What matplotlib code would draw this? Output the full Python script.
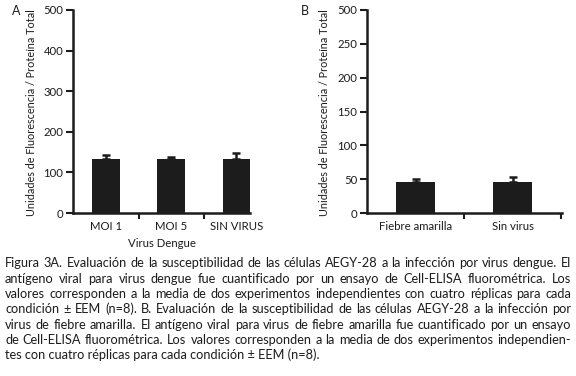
import matplotlib
matplotlib.use("Agg")
import matplotlib.pyplot as plt

W, H = 576, 376

# panel A: dengue
dengue_labels = ["MOI 1", "MOI 5", "SIN VIRUS"]
dengue_mean = [132, 132, 132]
dengue_sem = [12, 7, 17]
dengue_ticks = [0, 100, 200, 300, 400, 500]

# panel B: fiebre amarilla (the top tick is printed "500" in the source)
fa_labels = ["Fiebre amarilla", "Sin virus"]
fa_mean = [46, 46]
fa_sem = [4, 7]
fa_ticks = [0, 50, 100, 150, 200, 250, 300]
fa_tick_labels = ["0", "50", "100", "150", "200", "250", "500"]

ylab = "Unidades de Fluorescencia / Proteína Total"

caption = [
    "Figura 3A. Evaluación de la susceptibilidad de las células AEGY-28 a la infección por virus dengue. El",
    "antígeno viral para virus dengue fue cuantificado por un ensayo de Cell-ELISA fluorométrica. Los",
    "valores corresponden a la media de dos experimentos independientes con cuatro réplicas para cada",
    "condición ± EEM (n=8). B. Evaluación de la susceptibilidad de las células AEGY-28 a la infección por",
    "virus de fiebre amarilla. El antígeno viral para virus de fiebre amarilla fue cuantificado por un ensayo",
    "de Cell-ELISA fluorométrica. Los valores corresponden a la media de dos experimentos independien-",
    "tes con cuatro réplicas para cada condición ± EEM (n=8).",
]

plt.rcParams["font.family"] = ["Lato", "DejaVu Sans"]
fig = plt.figure(figsize=(W / 100, H / 100), dpi=100)
renderer = fig.canvas.get_renderer()
ink = "#1c1c1c"
fs = 8.2


def px_axes(x0, x1, y0, y1):
    return fig.add_axes([x0 / W, 1 - y1 / H, (x1 - x0) / W, (y1 - y0) / H])


def text_width(s, size):
    t = fig.text(0, 0, s, fontsize=size)
    width = t.get_window_extent(renderer).width
    t.remove()
    return width


def style(ax, ticks, ticklabels, cats, xlim, xticks, ymax):
    ax.set_ylim(0, ymax)
    ax.set_xlim(*xlim)
    for s in ["top", "right"]:
        ax.spines[s].set_visible(False)
    for s in ["left", "bottom"]:
        ax.spines[s].set_linewidth(1.8)
        ax.spines[s].set_color(ink)
    ax.set_yticks(ticks)
    ax.set_yticklabels(ticklabels, fontsize=fs, color=ink)
    ax.tick_params(axis="y", length=5, width=1.5, pad=2, color=ink)
    ax.set_xticks(xticks)
    ax.set_xticklabels([])
    ax.tick_params(axis="x", which="major", length=4, width=1.5, color=ink, direction="out")
    ax.set_xticks(range(len(cats)), minor=True)
    ax.set_xticklabels(cats, minor=True, fontsize=fs, color=ink)
    ax.tick_params(axis="x", which="minor", length=0, pad=6)


axA = px_axes(73, 250, 10, 213)
axA.bar(range(3), dengue_mean, width=0.424, color=ink, zorder=2)
axA.errorbar(range(3), dengue_mean, yerr=[[0] * 3, dengue_sem], fmt="none",
             ecolor=ink, elinewidth=1.8, capsize=3, capthick=1.8, zorder=1)
style(axA, dengue_ticks, [str(t) for t in dengue_ticks], dengue_labels,
      (-0.51, 2.21), [0.5, 1.5], 500)
axA.set_xlabel("Virus Dengue", fontsize=fs, color=ink, labelpad=4)

axB = px_axes(367, 562, 10, 213)
axB.bar(range(2), fa_mean, width=0.40, color=ink, zorder=2)
axB.errorbar(range(2), fa_mean, yerr=[[0] * 2, fa_sem], fmt="none",
             ecolor=ink, elinewidth=1.8, capsize=3, capthick=1.8, zorder=1)
style(axB, fa_ticks, fa_tick_labels, fa_labels, (-0.5, 1.51), [0.5, 1.5], 300)

# y labels sized to span the axis height like the reference
ysize = fs * 206 / text_width(ylab, fs)
fig.text(32 / W, 1 - 113 / H, ylab, rotation=90, ha="center", va="center",
         fontsize=ysize, color=ink)
fig.text(324 / W, 1 - 113 / H, ylab, rotation=90, ha="center", va="center",
         fontsize=ysize, color=ink)
fig.text(12 / W, 1 - 11 / H, "A", fontsize=9, va="center", color=ink)
fig.text(301 / W, 1 - 11 / H, "B", fontsize=9, va="center", color=ink)

# justified caption
left, right = 5, 571
line_y = [263, 279, 294, 309, 325, 340, 355]
widest = max(text_width(line, 8) for line in caption[:-1])
cap_size = 8 * (right - left - 4) / widest

for i, line in enumerate(caption):
    y = 1 - line_y[i] / H
    words = line.split(" ")
    if i == len(caption) - 1:
        fig.text(left / W, y, line, fontsize=cap_size, va="center", color=ink)
        continue
    widths = [text_width(w, cap_size) for w in words]
    gap = (right - left - sum(widths)) / (len(words) - 1)
    x = left
    for w, wd in zip(words, widths):
        fig.text(x / W, y, w, fontsize=cap_size, va="center", color=ink)
        x += wd + gap

fig.savefig("out.png", dpi=100)
